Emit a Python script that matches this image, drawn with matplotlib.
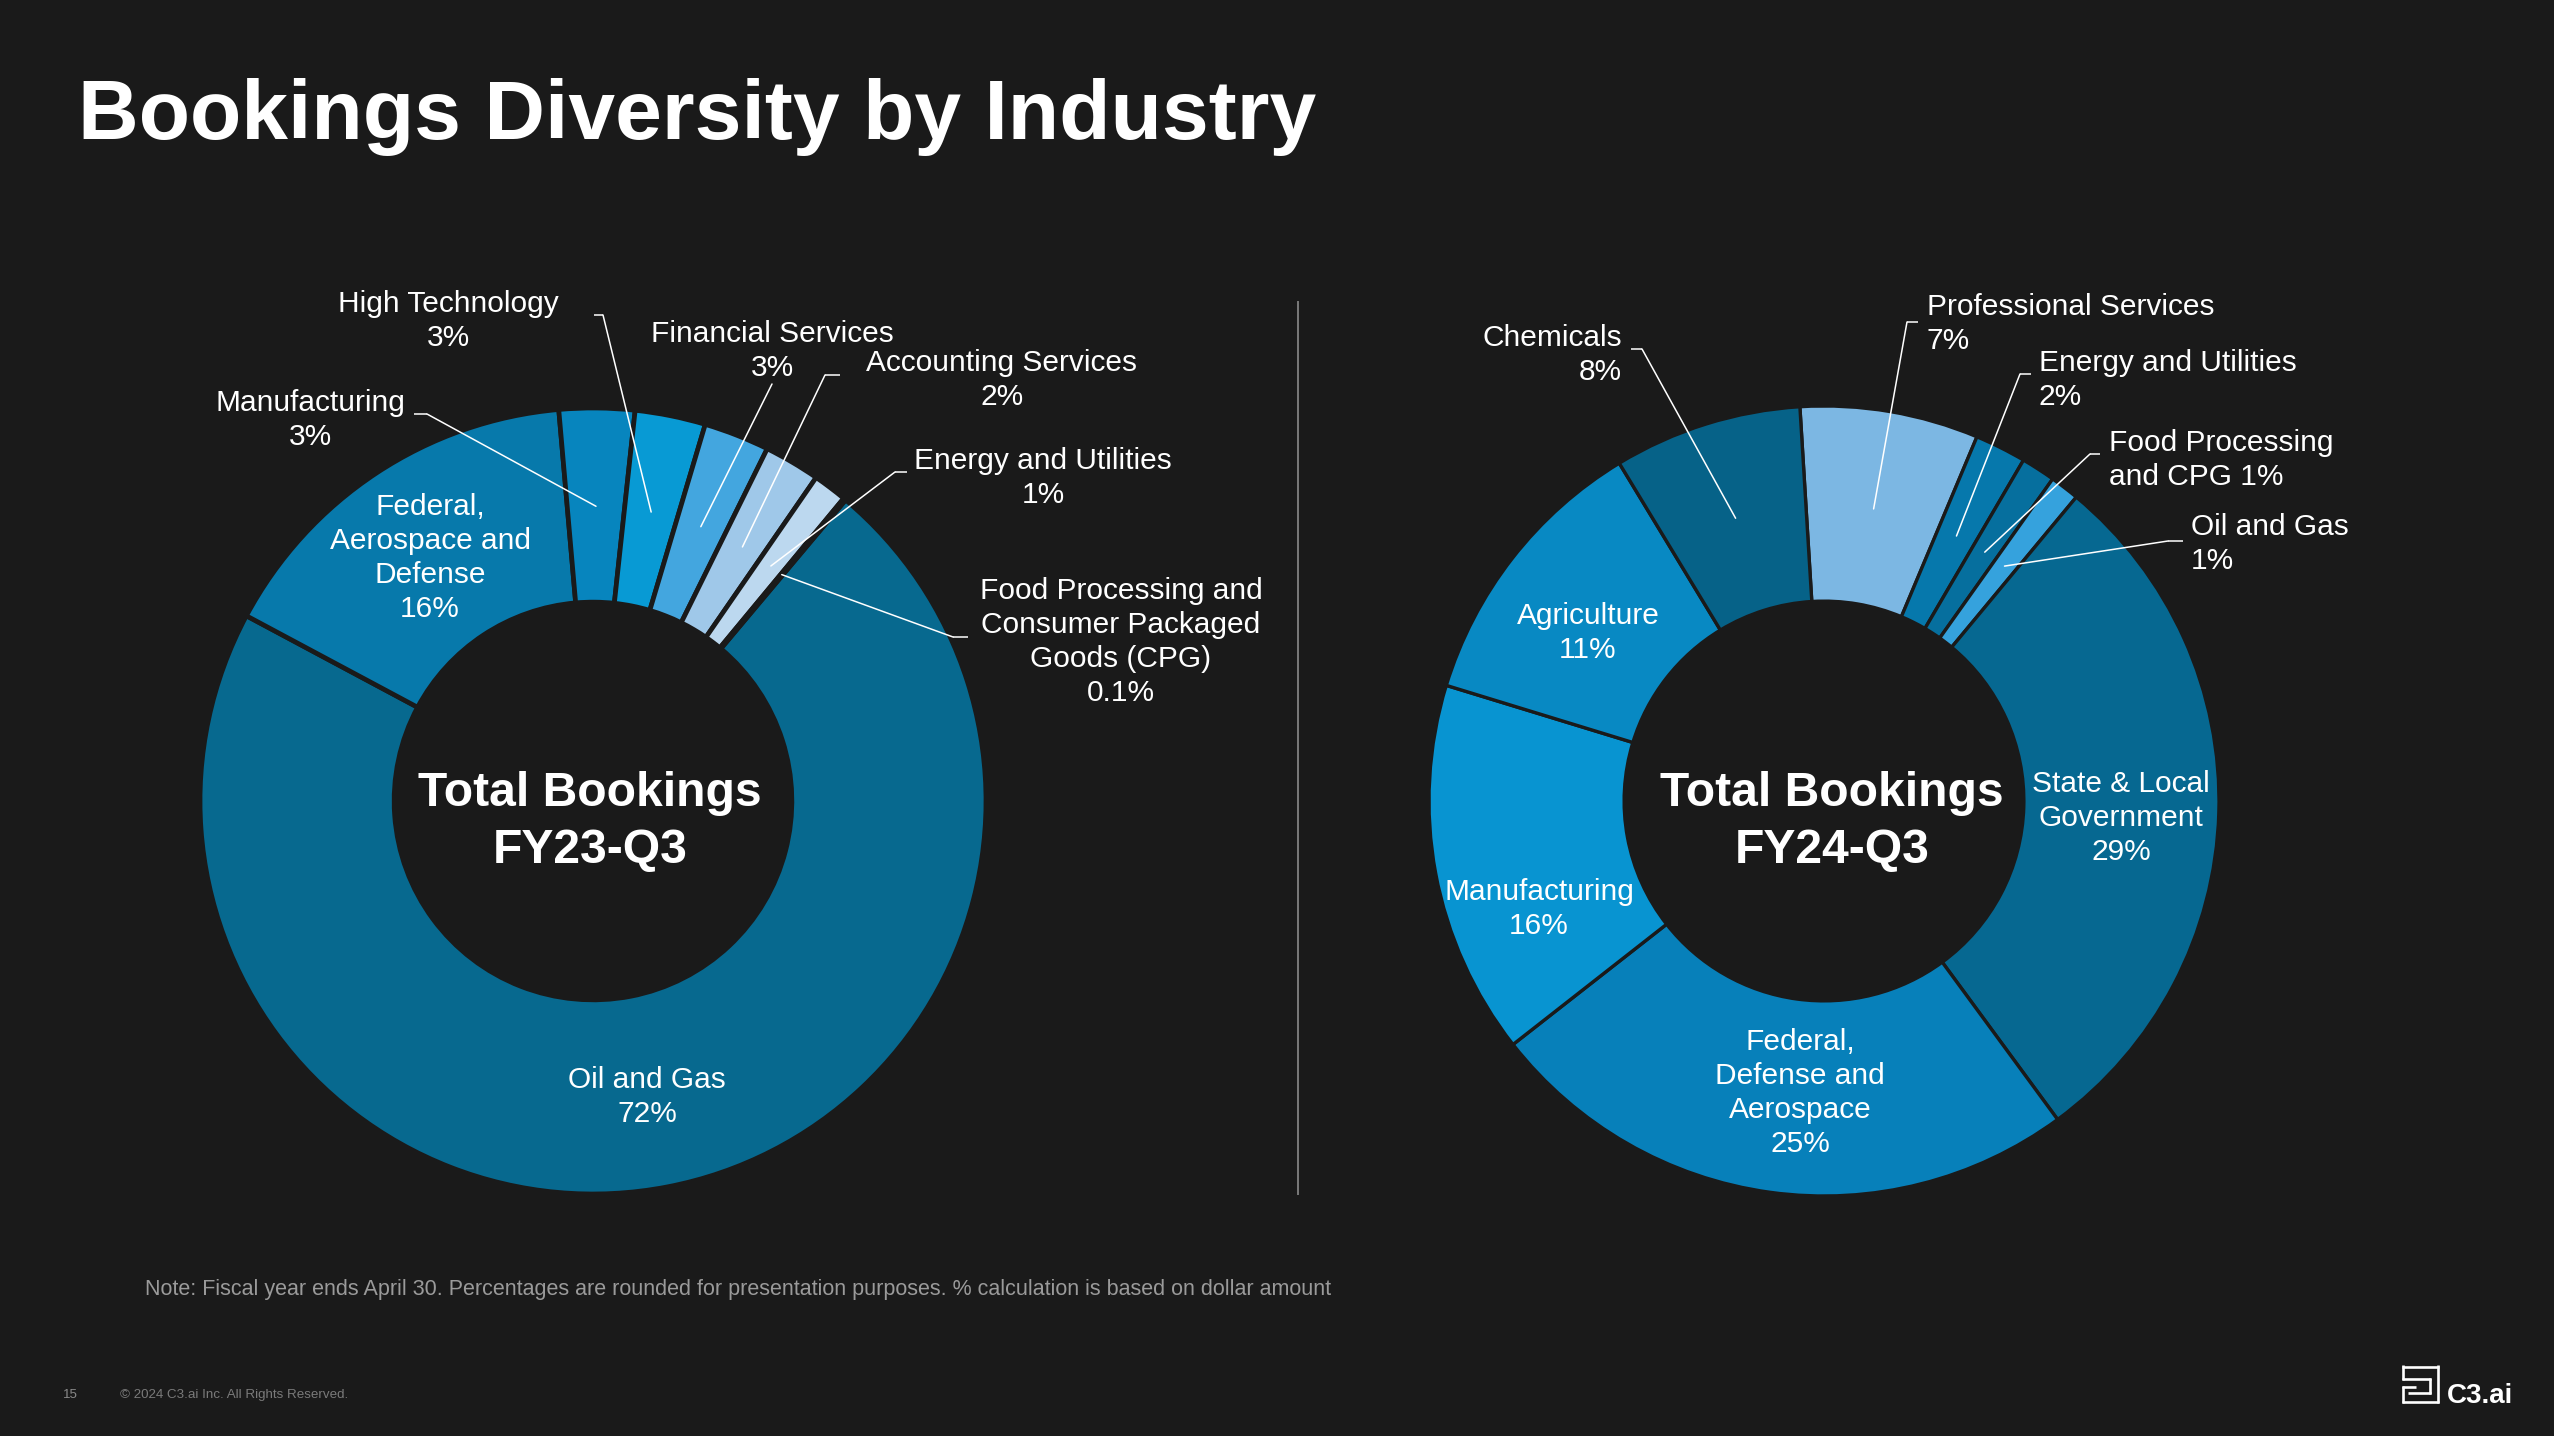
import matplotlib
matplotlib.use("Agg")
import matplotlib.pyplot as plt
import numpy as np

plt.rcParams['font.family'] = ['Liberation Sans', 'DejaVu Sans']

# ---------------- data ----------------
title = "Bookings Diversity by Industry"

left_categories = ["Oil and Gas", "Federal, Aerospace and Defense", "Manufacturing",
                   "High Technology", "Financial Services", "Accounting Services",
                   "Energy and Utilities", "Food Processing and Consumer Packaged Goods (CPG)"]
left_values = [71.7, 15.8, 3.1, 2.9, 2.7, 2.3, 1.4, 0.1]
left_pct_labels = ["72%", "16%", "3%", "3%", "3%", "2%", "1%", "0.1%"]
left_center_label = "Total Bookings\nFY23-Q3"

right_categories = ["Professional Services", "Energy and Utilities", "Food Processing and CPG",
                    "Oil and Gas", "State & Local Government", "Federal, Defense and Aerospace",
                    "Manufacturing", "Agriculture", "Chemicals"]
right_values = [7.3, 2.1, 1.4, 1.2, 28.9, 24.5, 15.3, 11.6, 7.7]
right_pct_labels = ["7%", "2%", "1%", "1%", "29%", "25%", "16%", "11%", "8%"]
right_center_label = "Total Bookings\nFY24-Q3"

note_text = ("Note: Fiscal year ends April 30. Percentages are rounded for presentation purposes. "
             "% calculation is based on dollar amount")
page_number = "15"
copyright_text = "\u00a9 2024 C3.ai Inc. All Rights Reserved."
logo_text = "C3.ai"

# ---------------- style ----------------
BG = "#1a1a1a"
left_colors = ['#07698F', '#0779AB', '#0785BE', '#089AD4', '#43A6DF', '#9FC8E9', '#BCD8EF', '#D9E8F5']
right_colors = ['#7CB7E3', '#0678AC', '#066F9E', '#35A2DD', '#066891', '#0780BA', '#0894D1', '#0889C3', '#066288']

W, H = 2554, 1436
fig = plt.figure(figsize=(W / 100, H / 100), dpi=100, facecolor=BG)

# label layouts: text (with line breaks), position (px), alignment, leader (start, tick end)
left_layout = [
    ("Oil and Gas\n{}", (647, 1097), 'center', None),
    ("Federal,\nAerospace and\nDefense\n{}", (430, 558), 'center', None),
    ("Manufacturing\n{}", (310, 420), 'center', ((427, 414), (414, 414))),
    ("High Technology\n{}", (448, 321), 'center', ((603, 315), (594, 315))),
    ("Financial Services\n{}", (772, 351), 'center', ((772, 384), None)),
    ("Accounting Services\n{}", (1002, 380), 'center', ((825, 375), (840, 375))),
    ("Energy and Utilities\n{}", (1043, 478), 'center', ((895, 472), (907, 472))),
    ("Food Processing and\nConsumer Packaged\nGoods (CPG)\n{}", (1121, 642), 'center', ((953, 637), (968, 637))),
]
right_layout = [
    ("Professional Services\n{}", (1927, 324), 'left', ((1907, 322), (1918, 322))),
    ("Energy and Utilities\n{}", (2039, 380), 'left', ((2020, 374), (2031, 374))),
    ("Food Processing\nand CPG {}", (2109, 460), 'left', ((2090, 454), (2100, 454))),
    ("Oil and Gas\n{}", (2191, 544), 'left', ((2168, 541), (2183, 541))),
    ("State & Local\nGovernment\n{}", (2121, 818), 'center', None),
    ("Federal,\nDefense and\nAerospace\n{}", (1800, 1093), 'center', None),
    ("Manufacturing\n{}", (1539, 909), 'center', None),
    ("Agriculture\n{}", (1588, 633), 'center', None),
    ("Chemicals\n{}", (1622, 355), 'right', ((1642, 349), (1631, 349))),
]


def donut(cx, cy, R, values, colors, startangle, edge_lw):
    ax = fig.add_axes([(cx - R) / W, (H - cy - R) / H, 2 * R / W, 2 * R / H])
    wedges, _ = ax.pie(values, colors=colors, startangle=startangle, counterclock=False,
                       radius=1.0, wedgeprops=dict(width=0.494, edgecolor=BG, linewidth=edge_lw))
    ax.set_xlim(-1, 1)
    ax.set_ylim(-1, 1)
    ax.set_aspect('equal')
    ax.axis('off')
    return ax, wedges


axL, wedgesL = donut(593, 801, 393, left_values, left_colors, 50, 3.4)
axR, wedgesR = donut(1824, 801, 395, right_values, right_colors, 93.5, 2.4)

# overlay for text in pixel coordinates
ov = fig.add_axes([0, 0, 1, 1], zorder=10)
ov.set_xlim(0, W)
ov.set_ylim(H, 0)
ov.axis('off')
ov.patch.set_alpha(0)

LABEL_FS = 21.5


def place_labels(ax, wedges, layout, pcts):
    for w, (txt, (x, y), ha, leader), p in zip(wedges, layout, pcts):
        ov.text(x, y, txt.format(p), color='white', fontsize=LABEL_FS, ha=ha, va='center',
                multialignment=ha, linespacing=1.28)
        if leader is not None:
            start, tick = leader
            mid = np.deg2rad((w.theta1 + w.theta2) / 2)
            pt = (0.75 * np.cos(mid), 0.75 * np.sin(mid))
            ov.annotate('', xy=pt, xycoords=ax.transData, xytext=start, textcoords='data',
                        arrowprops=dict(arrowstyle='-', color='white', lw=1.1,
                                        shrinkA=0, shrinkB=0))
            if tick is not None:
                ov.plot([start[0], tick[0]], [start[1], tick[1]], color='white', lw=1.1,
                        solid_capstyle='butt')


place_labels(axL, wedgesL, left_layout, left_pct_labels)
place_labels(axR, wedgesR, right_layout, right_pct_labels)

# centre texts
ov.text(590, 822, left_center_label, color='white', fontsize=34.6, fontweight='bold',
        ha='center', va='center', linespacing=1.36)
ov.text(1832, 822, right_center_label, color='white', fontsize=34.6, fontweight='bold',
        ha='center', va='center', linespacing=1.36)

# title
ov.text(78, 139, title, color='white', fontsize=60.5, fontweight='bold', ha='left',
        va='baseline')

# divider
ov.plot([1298, 1298], [302, 1194], color='#7a7a7a', lw=1.4)

# footnote
ov.text(145, 1290, note_text, color='#9a9a9a', fontsize=15.5, ha='left', va='center')
ov.text(63, 1395, page_number, color='#8a8a8a', fontsize=9.5, ha='left', va='center')
ov.text(120, 1395, copyright_text, color='#7a7a7a', fontsize=9.6, ha='left', va='center')

# logo icon
lc = 'white'
segs = [
    [(2402, 1366.5), (2439, 1366.5)],
    [(2437.7, 1365), (2437.7, 1403)],
    [(2402, 1401.8), (2439, 1401.8)],
    [(2403.2, 1365), (2403.2, 1380)],
    [(2402, 1378.8), (2431, 1378.8)],
    [(2429.8, 1378), (2429.8, 1394)],
    [(2408, 1393.2), (2431, 1393.2)],
    [(2403.2, 1386), (2403.2, 1403)],
    [(2402, 1386.5), (2416, 1386.5)],
]
for s in segs:
    ov.plot([s[0][0], s[1][0]], [s[0][1], s[1][1]], color=lc, lw=1.9, solid_capstyle='butt')
ov.text(2447, 1403, logo_text, color='white', fontsize=20, fontweight='bold', ha='left',
        va='baseline')

fig.savefig("out.png", dpi=100, facecolor=BG)
